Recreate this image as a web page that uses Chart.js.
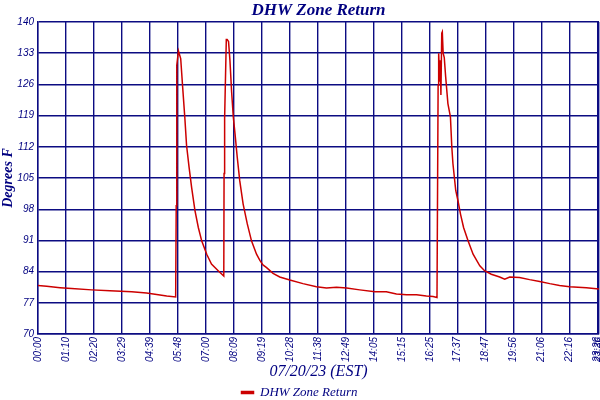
<!DOCTYPE html>
<html><head><meta charset="utf-8">
<script src="https://cdn.jsdelivr.net/npm/chart.js@4.4.0/dist/chart.umd.min.js"></script>
<style>html,body{margin:0;padding:0;background:#fff}#wrap{width:600px;height:400px;position:relative}</style>
</head><body><div id="wrap"><canvas id="c"></canvas></div>
<script>
const chartTitle = 'DHW Zone Return';
const seriesLabel = 'DHW Zone Return';
const xTitle = '07/20/23 (EST)';
const yTitle = 'Degrees F';
const tickLabels = ['00:00','01:10','02:20','03:29','04:39','05:48','07:00','08:09','09:19','10:28','11:38','12:49','14:05','15:15','16:25','17:37','18:47','19:56','21:06','22:16','23:26','23:36'];
const tickPositions = [0,1,2,3,4,5,6,7,8,9,10,11,12,13,14,15,16,17,18,19,20,20.05];
// sample positions measured in label-interval units
const samplePos = [0.00,0.31,0.79,1.20,1.92,2.57,3.35,3.88,4.30,4.60,4.92,4.94,4.96,5.02,5.10,5.17,5.25,5.31,5.40,5.49,5.61,5.73,5.85,6.03,6.20,6.44,6.64,6.65,6.67,6.73,6.76,6.81,6.86,6.92,6.98,7.04,7.12,7.21,7.33,7.48,7.63,7.81,7.93,8.04,8.17,8.40,8.64,9.00,9.47,9.95,10.31,10.67,11.03,11.50,12.04,12.45,12.81,13.17,13.53,13.88,14.12,14.26,14.27,14.30,14.32,14.36,14.38,14.40,14.43,14.45,14.48,14.52,14.57,14.65,14.74,14.79,14.83,14.93,15.01,15.10,15.21,15.37,15.55,15.79,15.96,16.20,16.50,16.68,16.86,17.21,17.57,17.93,18.29,18.64,19.00,19.60,20.05];
const tempF = [80.9,80.7,80.4,80.2,79.9,79.7,79.5,79.2,78.8,78.5,78.3,98.8,130.3,133.5,131.8,125.4,118.3,112.3,107.4,102.9,97.7,93.9,90.9,87.9,85.7,84.2,83.0,106.0,118.4,136.1,136.1,135.6,131.4,124.3,118.7,115.0,109.7,104.4,99.2,94.7,90.9,87.9,86.5,85.5,84.9,83.6,82.8,82.1,81.3,80.6,80.3,80.5,80.3,79.9,79.5,79.5,79.0,78.8,78.8,78.5,78.4,78.2,90.2,125.8,133.0,126.6,131.4,123.6,137.5,137.8,133.0,132.0,127.7,121.7,118.7,111.9,108.2,102.2,99.9,96.9,93.9,90.9,87.9,85.3,84.2,83.4,82.8,82.3,82.8,82.7,82.2,81.8,81.3,80.9,80.6,80.4,80.1];
const yMin = 70, yMax = 140, yStep = 7;

const navy = '#000080';
const gridColor = '#0c0c82';
const lineColor = '#cc0000';
const tickFont = {family:'Liberation Sans', style:'italic', size:10};

new Chart(document.getElementById('c'), {
  type: 'line',
  data: {
    datasets: [{
      label: seriesLabel,
      data: samplePos.map((p, i) => ({x: p, y: tempF[i]})),
      borderColor: lineColor,
      backgroundColor: lineColor,
      borderWidth: 1.5,
      pointRadius: 0,
      tension: 0,
      fill: false,
      xAxisID: 'x', yAxisID: 'y'
    }]
  },
  options: {
    responsive: true,
    maintainAspectRatio: false,
    animation: false,
    layout: {padding: {left: 0, right: 1, top: 0, bottom: -9}},
    scales: {
      top: {
        type: 'linear', position: 'top',
        grid: {display: false, drawTicks: false}, border: {display: false},
        ticks: {display: false},
        title: {display: true, text: chartTitle, color: navy,
          font: {family:'Liberation Serif', style:'italic', weight:'bold', size:17},
          padding: {top: 0, bottom: 2}},
        afterFit: s => { s.height = 22; s.paddingLeft = 0; s.paddingRight = 0; }
      },
      x: {
        type: 'linear', position: 'bottom',
        min: 0, max: tickPositions[tickPositions.length - 1],
        afterBuildTicks: s => { s.ticks = tickPositions.map(v => ({value: v})); },
        grid: {color: gridColor, lineWidth: 1.4, drawTicks: false},
        border: {color: gridColor, width: 1.4},
        ticks: {autoSkip: false, minRotation: 90, maxRotation: 90, padding: 3,
          color: navy, font: tickFont,
          callback: (v, i) => tickLabels[i]},
        title: {display: true, text: xTitle, color: navy,
          font: {family:'Liberation Serif', style:'italic', size:16},
          padding: {top: 0, bottom: 5}},
        afterFit: s => { s.height = 52; s.paddingLeft = 0; s.paddingRight = 0; }
      },
      y: {
        min: yMin, max: yMax,
        grid: {color: gridColor, lineWidth: 1.4, drawTicks: false},
        border: {color: gridColor, width: 1.4},
        ticks: {stepSize: yStep, padding: 4, color: navy, font: tickFont},
        title: {display: true, text: yTitle, color: navy,
          font: {family:'Liberation Serif', style:'italic', weight:'bold', size:14},
          padding: {top: 0, bottom: 0}},
        afterFit: s => { s.width = 38; }
      }
    },
    plugins: {
      title: {display: false},
      tooltip: {enabled: false},
      legend: {
        position: 'bottom',
        labels: {boxWidth: 12, boxHeight: 2, padding: 0, color: navy,
          font: {family:'Liberation Serif', style:'italic', size:13}}
      }
    }
  }
});
</script>
</body></html>
